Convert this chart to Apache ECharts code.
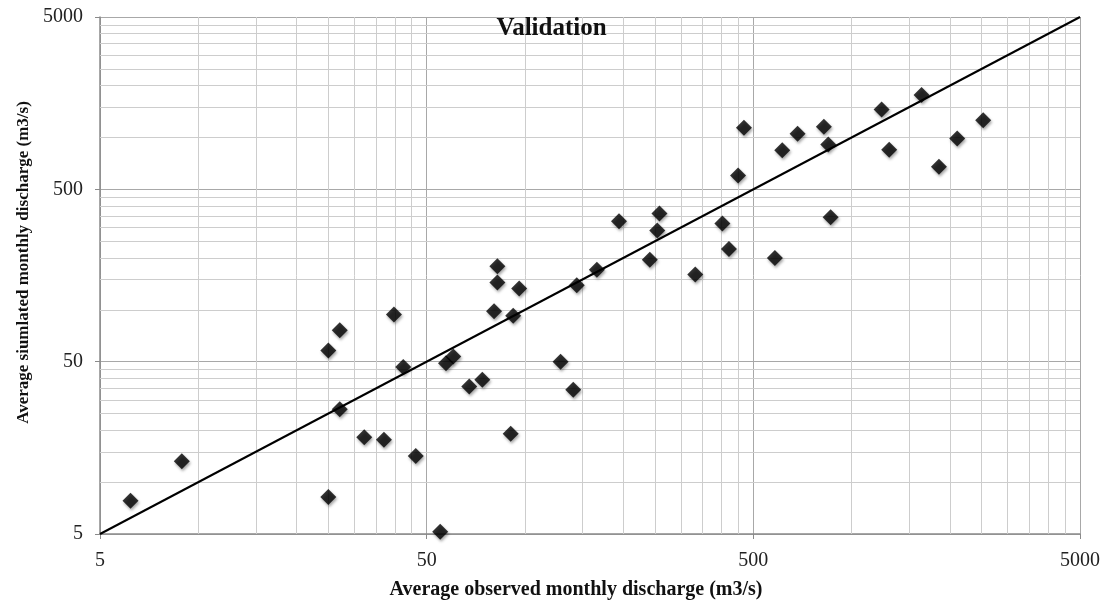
<!DOCTYPE html>
<html>
<head>
<meta charset="utf-8">
<title>Validation</title>
<script src="https://cdn.jsdelivr.net/npm/echarts@6/dist/echarts.min.js"></script>
<style>
  html, body { margin: 0; padding: 0; background: #fff; }
  #main { width: 1103px; height: 602px; }
</style>
</head>
<body>
<div id="main"></div>
<script>
  // observed vs simulated monthly discharge (m3/s)
  var observed = [6.2, 8.9, 25, 25, 27.1, 39.7, 42.4, 27.1, 32.2, 37, 46.3, 55,
    82.3, 82.3, 96, 144, 166, 80.4, 92, 60.3, 57.3, 67.5, 74, 90.4, 128.5, 140.5, 332,
    194, 258, 254, 241, 402, 421, 449, 468,
    582, 862, 613, 683, 822, 848, 1235, 1303, 1637, 1850, 2104, 2527];
  var simulated = [7.8, 13.2, 8.2, 58, 76, 94, 46.5, 26.5, 18.2, 17.6, 14.2, 5.15,
    179, 144, 133, 139, 171, 98, 92.4, 53.6, 49, 35.9, 39.3, 19.1, 50, 34.3, 160,
    326, 362, 288, 195, 317, 225, 601, 1138,
    200, 344, 843, 1051, 1153, 910, 1455, 848, 1762, 675, 987, 1260];

  // axis labels and gridlines
  var majorTicks = [5, 50, 500, 5000];
  var minorGrid = [10, 15, 20, 25, 30, 35, 40, 45,
    100, 150, 200, 250, 300, 350, 400, 450,
    1000, 1500, 2000, 2500, 3000, 3500, 4000, 4500];
  // 1:1 line ends
  var oneToOne = [5, 5000];

  var myChart = echarts.init(document.getElementById('main'));

  var points = observed.map(function (x, i) { return [x, simulated[i]]; });
  var gridMarks = [];
  minorGrid.forEach(function (v) {
    gridMarks.push({ xAxis: v });
    gridMarks.push({ yAxis: v });
  });

  var font = "'Liberation Serif', 'Times New Roman', serif";

  function logAxis(name, extra) {
    var ax = {
      type: 'log',
      logBase: 10,
      min: 5,
      max: 5000,
      name: name,
      nameLocation: 'middle',
      axisLine: { show: true, lineStyle: { color: '#8a8a8a', width: 1.5 } },
      axisTick: { show: true, inside: false, length: 5, customValues: majorTicks,
        lineStyle: { color: '#8a8a8a' } },
      axisLabel: { customValues: majorTicks, color: '#222', fontFamily: font, fontSize: 20,
        margin: 17,
        formatter: function (v) { return String(Math.round(v)); } },
      splitLine: { show: true, lineStyle: { color: '#a8a8a8', width: 1 } },
      minorTick: { show: false },
      minorSplitLine: { show: false }
    };
    for (var k in extra) ax[k] = extra[k];
    return ax;
  }

  var option = {
    animation: false,
    title: {
      text: 'Validation',
      left: 'center',
      top: 11,
      textStyle: { fontFamily: font, fontWeight: 'bold', fontSize: 25, color: '#111' }
    },
    grid: {
      left: 100,
      right: 23,
      top: 17,
      bottom: 68,
      containLabel: false,
      outerBoundsMode: 'none'
    },
    xAxis: logAxis('Average observed monthly discharge (m3/s)', {
      nameGap: 46,
      nameTextStyle: { fontFamily: font, fontWeight: 'bold', fontSize: 20, color: '#111',
        padding: [0, 28, 0, 0] }
    }),
    yAxis: logAxis('Average siumlated monthly discharge (m3/s)', {
      nameGap: 68,
      nameTextStyle: { fontFamily: font, fontWeight: 'bold', fontSize: 17, color: '#111',
        padding: [0, 0, 0, 26] }
    }),
    series: [
      {
        // minor gridlines, kept under the points and the 1:1 line
        type: 'scatter',
        data: [],
        z: 1,
        silent: true,
        markLine: {
          z: 1,
          silent: true,
          symbol: ['none', 'none'],
          label: { show: false },
          lineStyle: { type: 'solid', color: '#cdcdcd', width: 1 },
          emphasis: { disabled: true },
          data: gridMarks
        }
      },
      {
        type: 'line',
        data: [[oneToOne[0], oneToOne[0]], [oneToOne[1], oneToOne[1]]],
        showSymbol: false,
        symbol: 'none',
        z: 3,
        lineStyle: { color: '#000', width: 2 }
      },
      {
        type: 'scatter',
        data: points,
        symbol: 'diamond',
        symbolSize: 16,
        z: 4,
        itemStyle: {
          color: '#000',
          shadowBlur: 3,
          shadowColor: 'rgba(0,0,0,0.45)',
          shadowOffsetX: 1,
          shadowOffsetY: 2
        }
      }
    ]
  };

  myChart.setOption(option);
</script>
</body>
</html>
